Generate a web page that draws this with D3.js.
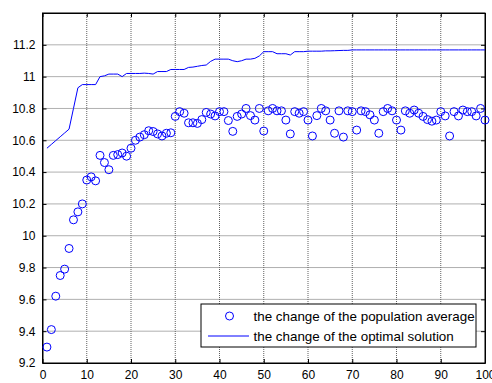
<!DOCTYPE html>
<html><head><meta charset="utf-8">
<script src="https://cdn.jsdelivr.net/npm/d3@7"></script>
<style>
body{margin:0;background:#fff;}
svg{display:block;font-family:"Liberation Sans",Arial,sans-serif;}
</style></head>
<body><svg id="c" width="492" height="383"></svg>
<script>
const populationAverage = [9.30,9.41,9.62,9.75,9.79,9.92,10.10,10.15,10.20,10.35,
10.37,10.345,10.505,10.46,10.415,10.505,10.51,10.52,10.50,10.55,
10.60,10.62,10.635,10.66,10.655,10.64,10.627,10.644,10.647,10.75,
10.78,10.77,10.71,10.71,10.706,10.73,10.775,10.765,10.753,10.78,
10.78,10.724,10.656,10.75,10.765,10.80,10.755,10.727,10.80,10.658,
10.785,10.80,10.785,10.785,10.727,10.64,10.78,10.77,10.78,10.727,
10.627,10.755,10.80,10.785,10.727,10.644,10.785,10.62,10.785,10.78,
10.664,10.785,10.78,10.76,10.727,10.644,10.78,10.80,10.785,10.727,
10.664,10.785,10.77,10.79,10.77,10.75,10.73,10.72,10.727,10.78,
10.753,10.627,10.78,10.753,10.79,10.78,10.78,10.753,10.80,10.727];
const optimalSolution = [10.55,10.574,10.598,10.622,10.646,10.67,10.80,10.93,10.95,10.95,
10.95,10.95,11.0,11.005,11.016,11.016,11.016,11.0,11.02,11.02,
11.02,11.02,11.022,11.02,11.016,11.032,11.032,11.032,11.045,11.045,
11.045,11.045,11.058,11.06,11.065,11.07,11.073,11.096,11.11,11.11,
11.11,11.11,11.10,11.094,11.10,11.11,11.11,11.115,11.13,11.157,
11.157,11.157,11.144,11.144,11.144,11.136,11.157,11.157,11.157,11.16,
11.16,11.16,11.16,11.162,11.162,11.163,11.164,11.165,11.165,11.168,
11.168,11.168,11.168,11.168,11.168,11.168,11.168,11.168,11.168,11.168,
11.168,11.168,11.168,11.168,11.168,11.168,11.168,11.168,11.168,11.168,
11.168,11.168,11.168,11.168,11.168,11.168,11.168,11.168,11.168,11.168];
const xTicks = [0,10,20,30,40,50,60,70,80,90,100];
const yTicks = [9.2,9.4,9.6,9.8,10,10.2,10.4,10.6,10.8,11,11.2,11.4];
const yTickLabels = ["9.2","9.4","9.6","9.8","10","10.2","10.4","10.6","10.8","11","11.2",""];
const legendLabels = ["the change of the population average","the change of the optimal solution"];

const L=42.5,R=485,T=13,B=363;
const svg=d3.select("#c");
const x=d3.scaleLinear().domain([0,100]).range([L,R]);
const y=d3.scaleLinear().domain([9.2,11.4]).range([B,T]);
const blue="#0000ff";

// grid
const g=svg.append("g");
g.selectAll(".gx").data(xTicks.slice(1,-1)).enter().append("line")
 .attr("x1",d=>x(d)).attr("x2",d=>x(d)).attr("y1",T).attr("y2",B)
 .attr("stroke","#606060").attr("stroke-width",1).attr("stroke-dasharray","1,1");
g.selectAll(".gy").data(yTicks.slice(1,-1)).enter().append("line")
 .attr("y1",d=>y(d)).attr("y2",d=>y(d)).attr("x1",L).attr("x2",R)
 .attr("stroke","#606060").attr("stroke-width",1).attr("stroke-dasharray","1,1");

// axes
const fmt=(d)=>yTickLabels[yTicks.indexOf(d)];
const ax=svg.append("g").attr("transform",`translate(0,${B})`)
 .call(d3.axisBottom(x).tickValues(xTicks).tickSize(-4).tickSizeOuter(0).tickPadding(7));
const ay=svg.append("g").attr("transform",`translate(${L},0)`)
 .call(d3.axisLeft(y).tickValues(yTicks).tickFormat(fmt).tickSize(-4).tickSizeOuter(0).tickPadding(7));
const axT=svg.append("g").attr("transform",`translate(0,${T})`)
 .call(d3.axisTop(x).tickValues(xTicks).tickSize(-4).tickSizeOuter(0).tickFormat(""));
const ayR=svg.append("g").attr("transform",`translate(${R},0)`)
 .call(d3.axisRight(y).tickValues(yTicks).tickSize(-4).tickSizeOuter(0).tickFormat(""));
[ax,ay,axT,ayR].forEach(a=>{
 a.selectAll("text").attr("font-size",12).attr("fill","#000").attr("font-family","Liberation Sans, Arial, sans-serif");
 a.selectAll("line").attr("stroke","#000");
 a.select(".domain").attr("stroke","#000");
});
svg.append("rect").attr("x",L).attr("y",T).attr("width",R-L).attr("height",B-T)
 .attr("fill","none").attr("stroke","#000").attr("stroke-width",1);

// line
const line=d3.line().x((d,i)=>x(i+1)).y(d=>y(d));
svg.append("path").datum(optimalSolution).attr("d",line)
 .attr("fill","none").attr("stroke",blue).attr("stroke-width",1);

// points
svg.append("g").selectAll("circle").data(populationAverage).enter().append("circle")
 .attr("cx",(d,i)=>x(i+1)).attr("cy",d=>y(d)).attr("r",4)
 .attr("fill","none").attr("stroke",blue).attr("stroke-width",1);

// legend
const lg=svg.append("g");
lg.append("rect").attr("x",201).attr("y",304).attr("width",275).attr("height",43)
 .attr("fill","#fff").attr("stroke","#000").attr("stroke-width",1);
lg.append("circle").attr("cx",229.5).attr("cy",316).attr("r",4)
 .attr("fill","none").attr("stroke",blue);
lg.append("line").attr("x1",208).attr("x2",249).attr("y1",336).attr("y2",336)
 .attr("stroke",blue).attr("stroke-width",1);
lg.selectAll("text").data(legendLabels).enter().append("text")
 .attr("x",253.5).attr("y",(d,i)=>316+i*20).attr("dy","0.35em")
 .attr("font-size",13.4).attr("fill","#000").text(d=>d);
</script></body></html>
